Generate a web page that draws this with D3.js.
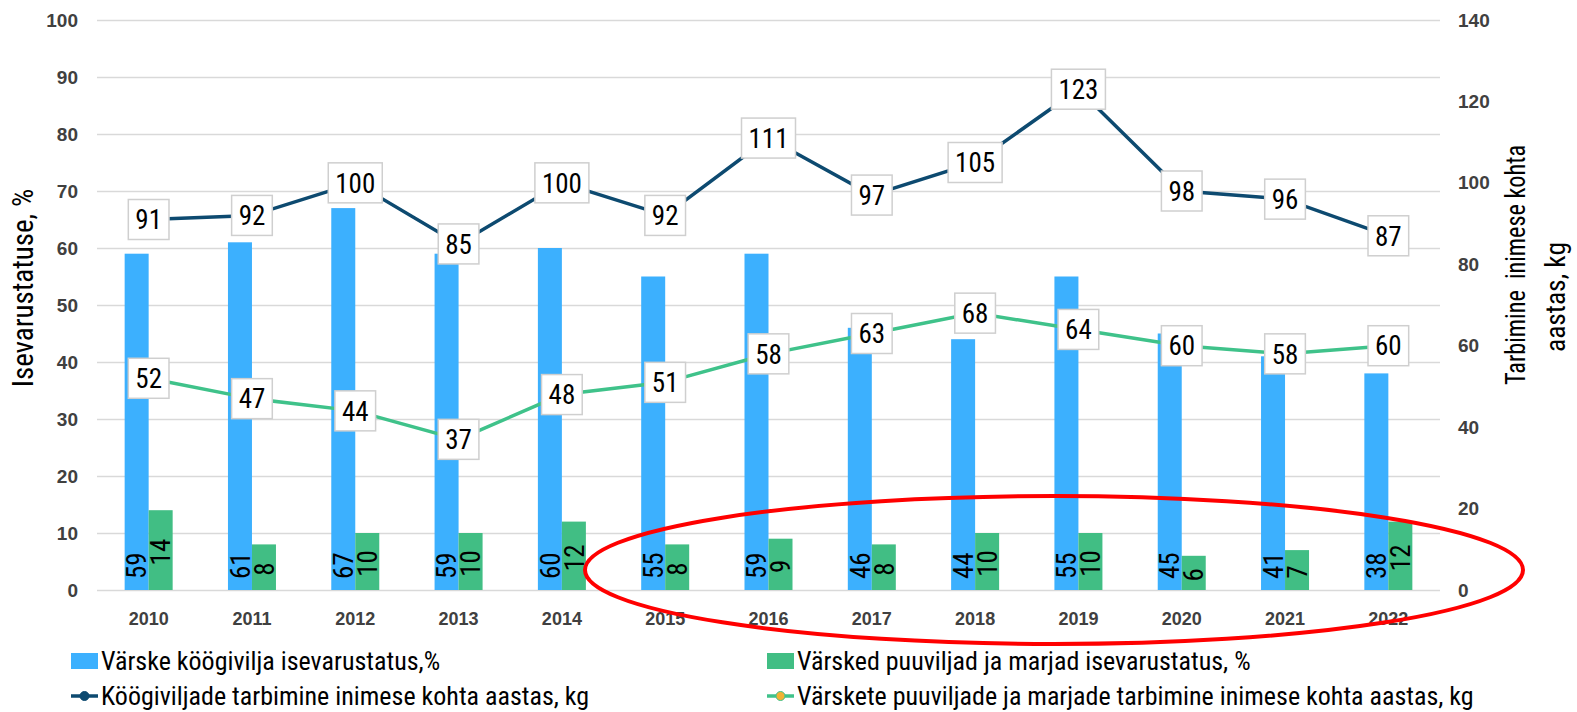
<!DOCTYPE html>
<html>
<head>
<meta charset="utf-8">
<script src="https://cdn.jsdelivr.net/npm/d3@7"></script>
<style>
body { margin: 0; background: #fff; }
svg { display: block; font-family: "Roboto Condensed", "Liberation Sans Narrow", "DejaVu Sans Condensed", sans-serif; font-stretch: condensed; }
.tick line { stroke: #d9d9d9; stroke-width: 1.5; }
.axis-label { fill: #404040; font-size: 19px; font-weight: 700; }
</style>
</head>
<body>
<script>
const years = [2010, 2011, 2012, 2013, 2014, 2015, 2016, 2017, 2018, 2019, 2020, 2021, 2022];
const veg_self = [59, 61, 67, 59, 60, 55, 59, 46, 44, 55, 45, 41, 38];
const fruit_self = [14, 8, 10, 10, 12, 8, 9, 8, 10, 10, 6, 7, 12];
const veg_cons = [91, 92, 100, 85, 100, 92, 111, 97, 105, 123, 98, 96, 87];
const fruit_cons = [52, 47, 44, 37, 48, 51, 58, 63, 68, 64, 60, 58, 60];
const left_ticks = [0, 10, 20, 30, 40, 50, 60, 70, 80, 90, 100];
const right_ticks = [0, 20, 40, 60, 80, 100, 120, 140];
const left_title = 'Isevarustatuse, %';
const right_title = ['Tarbimine  inimese kohta', 'aastas, kg'];
const bar_legend = ['Värske köögivilja isevarustatus,%', 'Värsked puuviljad ja marjad isevarustatus, %'];
const line_legend = ['Köögiviljade tarbimine inimese kohta aastas, kg', 'Värskete puuviljade ja marjade tarbimine inimese kohta aastas, kg'];

const blue = '#3cb0fe', green = '#41be84', navy = '#0d4a70', light_green = '#3fc28a';

const width = 1577, height = 712;
const plot = { left: 97, right: 1440, top: 20, bottom: 590 };

const svg = d3.select('body').append('svg')
    .attr('width', width)
    .attr('height', height);

const x = d3.scaleBand().domain(years).range([plot.left, plot.right]);
const x_inner = d3.scaleBand().domain(['veg', 'fruit'])
    .range([x.bandwidth() / 2 - 24, x.bandwidth() / 2 + 24]);
const y_left = d3.scaleLinear().domain([0, 100]).range([plot.bottom, plot.top]);
const y_right = d3.scaleLinear().domain([0, 140]).range([plot.bottom, plot.top]);

// gridlines + left axis
const left_axis = svg.append('g')
    .attr('transform', `translate(${plot.left},0)`)
    .call(d3.axisLeft(y_left).tickValues(left_ticks).tickSize(-(plot.right - plot.left)).tickPadding(19));
left_axis.select('.domain').remove();
left_axis.selectAll('text').attr('class', 'axis-label');

const right_axis = svg.append('g')
    .attr('transform', `translate(${plot.right},0)`)
    .call(d3.axisRight(y_right).tickValues(right_ticks).tickSize(0).tickPadding(18));
right_axis.select('.domain').remove();
right_axis.selectAll('text').attr('class', 'axis-label');

const x_axis = svg.append('g')
    .attr('transform', `translate(0,${plot.bottom})`)
    .call(d3.axisBottom(x).tickSize(0).tickPadding(22));
x_axis.select('.domain').remove();
x_axis.selectAll('text').attr('class', 'axis-label').style('font-size', '18px');

// bars
const bar_data = years.flatMap((yr, i) => [
    { year: yr, key: 'veg', v: veg_self[i], color: blue },
    { year: yr, key: 'fruit', v: fruit_self[i], color: green }
]);

svg.append('g').selectAll('rect')
    .data(bar_data)
    .enter()
    .append('rect')
        .attr('x', (d) => x(d.year) + x_inner(d.key))
        .attr('y', (d) => y_left(d.v))
        .attr('width', x_inner.bandwidth())
        .attr('height', (d) => y_left(0) - y_left(d.v))
        .style('fill', (d) => d.color);

// bar labels, rotated: blue ones sit at the base, green ones in the middle
svg.append('g').selectAll('text')
    .data(bar_data)
    .enter()
    .append('text')
        .text((d) => d.v)
        .style('font-size', '27px')
        .attr('text-anchor', 'middle')
        .attr('dy', '0.36em')
        .each(function (d) {
            const len = this.getComputedTextLength();
            const cx = x(d.year) + x_inner(d.key) + x_inner.bandwidth() / 2;
            const cy = d.key === 'veg'
                ? y_left(0) - 11 - len / 2
                : (y_left(d.v) + y_left(0)) / 2 + 2;
            d3.select(this).attr('transform', `translate(${cx},${cy}) rotate(-90)`);
        });

// lines with boxed labels
const line = d3.line()
    .x((d) => x(d.year) + x.bandwidth() / 2)
    .y((d) => y_right(d.v));

const line_series = [
    { color: navy, values: years.map((yr, i) => ({ year: yr, v: veg_cons[i] })) },
    { color: light_green, values: years.map((yr, i) => ({ year: yr, v: fruit_cons[i] })) }
];

line_series.forEach((s) => {
    svg.append('path')
        .datum(s.values)
        .attr('d', line)
        .style('fill', 'none')
        .style('stroke', s.color)
        .style('stroke-width', 3.5);
});

line_series.forEach((s) => {
    const lbl = svg.append('g').selectAll('g')
        .data(s.values)
        .enter()
        .append('g')
            .attr('transform', (d) => `translate(${x(d.year) + x.bandwidth() / 2},${y_right(d.v)})`);
    lbl.append('rect')
        .style('fill', '#fff')
        .style('stroke', '#cfcfcf')
        .style('stroke-width', 1.5);
    lbl.append('text')
        .text((d) => d.v)
        .style('font-size', '27px')
        .attr('text-anchor', 'middle')
        .attr('dy', '0.36em')
        .each(function () {
            const w = this.getComputedTextLength() + 14;
            d3.select(this.previousSibling)
                .attr('x', -w / 2).attr('y', -20)
                .attr('width', w).attr('height', 40);
        });
});

// axis titles
svg.append('text')
    .attr('transform', 'translate(33,288) rotate(-90)')
    .attr('text-anchor', 'middle')
    .style('font-size', '29px')
    .text(left_title);

const right_title_pos = [[1525, 265, 240], [1565, 297, 110]];
svg.selectAll('.right-title')
    .data(right_title)
    .enter()
    .append('text')
        .attr('class', 'right-title')
        .attr('transform', (d, i) => `translate(${right_title_pos[i][0]},${right_title_pos[i][1]}) rotate(-90)`)
        .attr('text-anchor', 'middle')
        .attr('textLength', (d, i) => right_title_pos[i][2])
        .attr('lengthAdjust', 'spacingAndGlyphs')
        .style('font-size', '28px')
        .style('white-space', 'pre')
        .text((d) => d);

// legend
const legend_x = [71, 767];

const bar_leg = svg.append('g').selectAll('g')
    .data(bar_legend)
    .enter()
    .append('g')
        .attr('transform', (d, i) => `translate(${legend_x[i]},661)`);
bar_leg.append('rect')
    .attr('x', 0).attr('y', -8)
    .attr('width', 27).attr('height', 16)
    .style('fill', (d, i) => [blue, green][i]);
bar_leg.append('text')
    .attr('x', 30).attr('dy', '0.36em')
    .style('font-size', '26px')
    .text((d) => d);

const line_leg = svg.append('g').selectAll('g')
    .data(line_legend)
    .enter()
    .append('g')
        .attr('transform', (d, i) => `translate(${legend_x[i]},696)`);
line_leg.append('line')
    .attr('x1', 0).attr('x2', 27)
    .style('stroke', (d, i) => [navy, light_green][i])
    .style('stroke-width', 3.5);
line_leg.append('circle')
    .attr('cx', 13.5).attr('r', 4.5)
    .style('fill', (d, i) => [navy, '#f2b134'][i])
    .style('stroke', (d, i) => [navy, light_green][i])
    .style('stroke-width', 1);
line_leg.append('text')
    .attr('x', 30).attr('dy', '0.36em')
    .style('font-size', '26px')
    .text((d) => d);

// red highlight ellipse
svg.append('ellipse')
    .attr('cx', 1054).attr('cy', 570)
    .attr('rx', 469).attr('ry', 74)
    .style('fill', 'none')
    .style('stroke', '#ff0000')
    .style('stroke-width', 4);
</script>
</body>
</html>
